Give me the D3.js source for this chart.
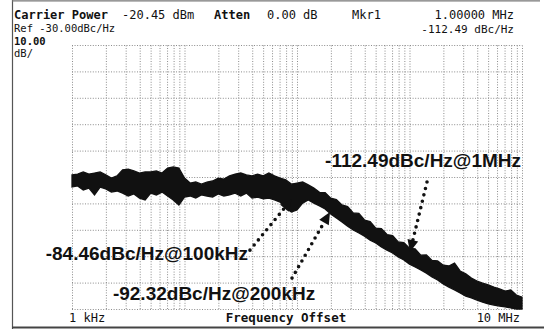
<!DOCTYPE html>
<html><head><meta charset="utf-8">
<script src="https://cdn.jsdelivr.net/npm/d3@7"></script>
<style>html,body{margin:0;padding:0;background:#fff;overflow:hidden}</style>
</head><body>
<svg id="c" width="544" height="329"></svg>
<script>
// ---- data ----
const freqKHz = [1,1.122,1.259,1.413,1.585,1.778,1.995,2.239,2.512,2.818,3.162,3.548,3.981,4.467,5.012,5.623,6.31,7.079,7.943,8.913,
  10,11.22,12.59,14.13,15.85,17.78,19.95,22.39,25.12,28.18,31.62,35.48,39.81,44.67,50.12,56.23,63.1,70.79,79.43,89.13,
  100,112.2,125.9,141.3,158.5,177.8,199.5,223.9,251.2,281.8,316.2,354.8,398.1,446.7,501.2,562.3,631,707.9,794.3,891.3,
  1000,1122,1259,1413,1585,1778,1995,2239,2512,2818,3162,3548,3981,4467,5012,5623,6310,7079,7943,8913,
  10000];
const noiseUpper = [-79.2,-78.9,-78.1,-78.9,-78.5,-78.1,-79.2,-80.4,-79.6,-77.3,
  -77.0,-77.7,-78.5,-78.1,-78.1,-77.7,-78.5,-76.6,-76.2,-76.6,
  -80.4,-82.3,-81.9,-82.7,-81.9,-81.5,-80.4,-80.8,-79.6,-78.9,
  -78.5,-79.2,-79.6,-78.9,-79.6,-78.5,-79.6,-80.4,-81.1,-82.7,
  -82.3,-81.9,-83.0,-84.2,-85.8,-85.9,-88.0,-88.6,-90.6,-91.2,
  -93.6,-93.8,-96.3,-96.9,-99.4,-99.6,-101.8,-102.2,-104.6,-104.9,
  -107.0,-107.2,-109.6,-109.5,-111.6,-111.8,-113.4,-113.7,-112.6,-115.6,
  -116.7,-118.3,-119.4,-120.2,-120.9,-121.7,-122.4,-123.2,-122.8,-124.7,
  -125.5];
const noiseLower = [-83.8,-83.4,-84.9,-84.2,-86.8,-83.8,-84.5,-85.7,-85.3,-86.1,
  -87.2,-86.4,-88.0,-88.7,-86.1,-86.8,-85.7,-87.2,-88.7,-90.6,
  -87.6,-87.2,-88.0,-86.8,-87.2,-87.6,-86.4,-87.2,-86.8,-86.1,
  -87.2,-86.1,-88.0,-87.6,-88.3,-88.0,-88.7,-89.5,-91.7,-93.3,
  -92.5,-89.9,-88.7,-89.9,-91.0,-92.1,-94.0,-95.5,-97.0,-98.6,
  -100.1,-101.2,-102.4,-103.9,-105.0,-106.5,-107.7,-108.8,-110.3,-111.4,
  -113.0,-114.1,-115.2,-116.4,-117.9,-119.0,-120.5,-121.7,-122.8,-123.9,
  -125.1,-125.8,-126.6,-127.4,-128.1,-128.5,-128.9,-129.2,-129.6,-130.0,
  -130.0];

const refLevel = -30, dbPerDiv = 10, divisions = 10;
const freqStart = 1e3, freqStop = 1e7;
const gridMantissas = [1,2,3,4,5,6,7,8,9];
const xTickLabels = ["1 kHz", "10 MHz"];
const xAxisTitle = "Frequency Offset";
const headerLine1 = [["Carrier Power", true], ["-20.45 dBm", false], ["Atten", true], ["0.00 dB", false], ["Mkr1", false]];
const headerRight = ["1.00000 MHz", "-112.49 dBc/Hz"];
const headerLeft = ["Ref -30.00dBc/Hz", "10.00", "dB/"];

const annoText = ["-84.46dBc/Hz@100kHz", "-92.32dBc/Hz@200kHz", "-112.49dBc/Hz@1MHz"];
const annoLabelFreq = [36700, 2310, 9800000];
const annoLabelDb = [-111.4, -126.6, -76.2];
const annoTailFreq = [38200, 90300, 1431000];
const annoTailDb = [-107.7, -118.3, -81.9];
const annoTipFreq = [90300, 196500, 1010000];
const annoTipDb = [-88.3, -93.3, -108.4];

// ---- drawing ----
const W = 544, H = 329;
const L = 72, R = 522, T = 45, B = 309;
const svg = d3.select("#c");
svg.append("rect").attr("width", W).attr("height", H).attr("fill", "#fff");

const x = d3.scaleLog().domain([freqStart, freqStop]).range([L, R]);
const y = d3.scaleLinear().domain([refLevel - dbPerDiv * divisions, refLevel]).range([B, T]);

// outer frame of the photo
svg.append("line").attr("x1", 12.5).attr("x2", 12.5).attr("y1", 0).attr("y2", 329).attr("stroke", "#555").attr("stroke-width", 1.2);
svg.append("line").attr("x1", 12).attr("x2", 540).attr("y1", 0.8).attr("y2", 0.8).attr("stroke", "#777").attr("stroke-width", 1.2);
svg.append("line").attr("x1", 12).attr("x2", 544).attr("y1", 327.5).attr("y2", 327.5).attr("stroke", "#444").attr("stroke-width", 2);

// grid
const vTicks = [];
for (let d = freqStart; d < freqStop; d *= 10) gridMantissas.forEach(m => vTicks.push(m * d));
vTicks.push(freqStop);
const hTicks = d3.range(0, divisions + 1).map(i => refLevel - i * dbPerDiv);

const gx = svg.append("g").attr("transform", `translate(0,${B})`)
  .call(d3.axisBottom(x).tickValues(vTicks).tickSize(-(B - T)).tickFormat(""));
const gy = svg.append("g").attr("transform", `translate(${L},0)`)
  .call(d3.axisLeft(y).tickValues(hTicks).tickSize(-(R - L)).tickFormat(""));
[gx, gy].forEach(g => {
  g.select(".domain").remove();
  g.selectAll(".tick line").attr("stroke", "#8c8c8c").attr("stroke-width", 1).attr("stroke-dasharray", "1,1.6");
});

// trace (noise band)
const pts = freqKHz.map((f, i) => ({ f: f * 1000, hi: noiseUpper[i], lo: noiseLower[i] }));
svg.append("path").datum(pts)
  .attr("d", d3.area().x(d => x(d.f)).y0(d => y(d.lo)).y1(d => y(d.hi)))
  .attr("fill", "#111").attr("stroke", "#111").attr("stroke-width", 1.3);

// header texts
const mono = "'DejaVu Sans Mono', 'Liberation Mono', monospace";
const h1x = [14, 122, 214, 267, 352];
headerLine1.forEach((h, i) => {
  svg.append("text").attr("x", h1x[i]).attr("y", 19).text(h[0])
    .attr("font-family", mono).attr("font-size", 12).attr("font-weight", h[1] ? "bold" : "normal").attr("fill", "#111");
});
headerRight.forEach((t, i) => {
  svg.append("text").attr("x", 514).attr("y", [19, 33][i]).attr("text-anchor", "end").text(t)
    .attr("font-family", mono).attr("font-size", i ? 11 : 12).attr("fill", "#111");
});
headerLeft.forEach((t, i) => {
  svg.append("text").attr("x", 14).attr("y", [32, 44.5, 57][i]).text(t)
    .attr("font-family", mono).attr("font-size", 10.5).attr("fill", "#111")
    .attr("font-weight", i === 1 ? "bold" : "normal");
});

// x labels
svg.append("text").attr("x", x(freqStart) - 3).attr("y", 322).text(xTickLabels[0])
  .attr("font-family", mono).attr("font-size", 12).attr("fill", "#111");
svg.append("text").attr("x", x(freqStop) - 2).attr("y", 322).attr("text-anchor", "end").text(xTickLabels[1])
  .attr("font-family", mono).attr("font-size", 12).attr("fill", "#111");
svg.append("text").attr("x", 286).attr("y", 322).attr("text-anchor", "middle").text(xAxisTitle)
  .attr("font-family", mono).attr("font-size", 12.5).attr("font-weight", "bold").attr("fill", "#111");

// annotations
const anchors = ["end", "start", "end"];
annoText.forEach((t, i) => {
  const x0 = x(annoTailFreq[i]), y0 = y(annoTailDb[i]);
  const x1 = x(annoTipFreq[i]), y1 = y(annoTipDb[i]);
  const ang = Math.atan2(y1 - y0, x1 - x0);
  const hl = 12, hw = 5.5;
  const bx = x1 - hl * Math.cos(ang), by = y1 - hl * Math.sin(ang);
  svg.append("line").attr("x1", x0).attr("y1", y0).attr("x2", bx).attr("y2", by)
    .attr("stroke", "#111").attr("stroke-width", 3.6).attr("stroke-linecap", "round").attr("stroke-dasharray", "0,6.6");
  const px = -Math.sin(ang), py = Math.cos(ang);
  svg.append("path")
    .attr("d", `M${x1},${y1}L${bx + hw * px},${by + hw * py}L${bx - hw * px},${by - hw * py}Z`)
    .attr("fill", "#111");
  svg.append("text").attr("x", x(annoLabelFreq[i])).attr("y", y(annoLabelDb[i]))
    .attr("text-anchor", anchors[i]).text(t)
    .attr("font-family", "'Liberation Sans', Arial, sans-serif").attr("font-size", 19).attr("font-weight", "bold")
    .attr("fill", "#111");
});
</script>
</body></html>
